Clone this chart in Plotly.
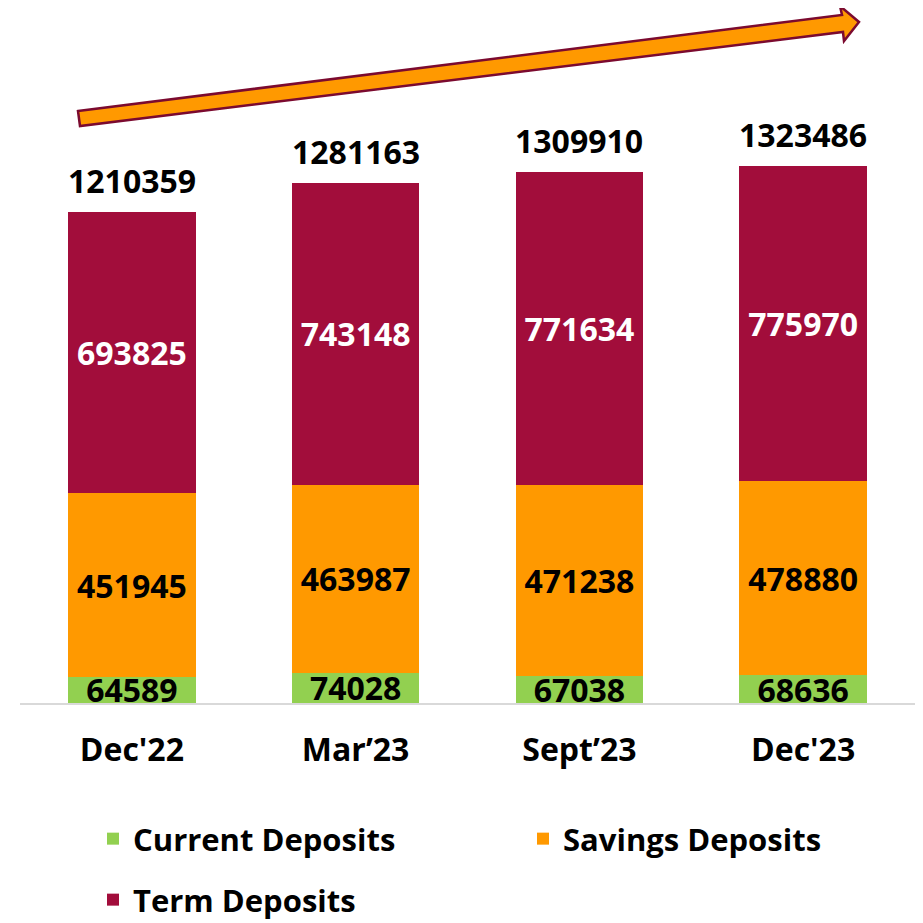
import plotly.graph_objects as go

categories = ["Dec'22", "Mar’23", "Sept’23", "Dec'23"]
current_deposits = [64589, 74028, 67038, 68636]
savings_deposits = [451945, 463987, 471238, 478880]
term_deposits = [693825, 743148, 771634, 775970]
totals = [1210359, 1281163, 1309910, 1323486]

GREEN = "#92D050"
ORANGE = "#FF9900"
MAROON = "#A20D3B"
FONT = "Open Sans"

OFF = 8  # page body margin in the browser
W, H = 923 - OFF, 923 - OFF
ML, MR, MT, MB = 12, 8, 30, 220
PW, PH = W - ML - MR, H - MT - MB

fig = go.Figure()
fig.add_trace(go.Bar(
    x=categories, y=current_deposits, name="Current Deposits",
    marker=dict(color=GREEN, line=dict(width=0)),
    text=[str(v) for v in current_deposits], textposition="inside",
    insidetextanchor="middle",
    textfont=dict(family=FONT, size=32, color="black", weight="bold"),
    legend="legend",
))
fig.add_trace(go.Bar(
    x=categories, y=savings_deposits, name="Savings Deposits",
    marker=dict(color=ORANGE, line=dict(width=0)),
    text=[str(v) for v in savings_deposits], textposition="inside",
    insidetextanchor="middle",
    textfont=dict(family=FONT, size=32, color="black", weight="bold"),
    legend="legend2",
))
fig.add_trace(go.Bar(
    x=categories, y=term_deposits, name="Term Deposits",
    marker=dict(color=MAROON, line=dict(width=0)),
    text=[str(v) for v in term_deposits], textposition="inside",
    insidetextanchor="middle",
    textfont=dict(family=FONT, size=32, color="white", weight="bold"),
    legend="legend3",
))

for c, t in zip(categories, totals):
    fig.add_annotation(
        x=c, y=t, text=str(t), showarrow=False, yanchor="bottom", yshift=8,
        font=dict(family=FONT, size=32, color="black", weight="bold"),
    )


def px2paper(px, py):
    # screen pixel -> paper coordinates
    return (px - OFF - ML) / PW, (H - MB - (py - OFF)) / PH


arrow_px = [(78, 111), (842, 15), (840, 6), (859, 22), (844, 41), (843, 32), (80, 126)]
pts = [px2paper(a, b) for a, b in arrow_px]
path = "M " + " L ".join(f"{x:.5f},{y:.5f}" for x, y in pts) + " Z"
fig.add_shape(type="path", path=path, xref="paper", yref="paper",
              fillcolor=ORANGE, line=dict(color="#7B0A2F", width=2.5), layer="above")

legfont = dict(family=FONT, size=31, color="black", weight="bold")


def leg(px, py):
    x, y = px2paper(px, py)
    return dict(orientation="h", x=x, y=y, xanchor="left", yanchor="top",
                font=legfont, bgcolor="rgba(0,0,0,0)")


fig.update_layout(
    width=W, height=H,
    margin=dict(l=ML, r=MR, t=MT, b=MB, autoexpand=False),
    showlegend=True,
    barmode="stack", bargap=0.43,
    plot_bgcolor="white", paper_bgcolor="white",
    uniformtext=dict(minsize=32, mode="show"),
    font=dict(family=FONT, color="black"),
    xaxis=dict(showline=True, linecolor="#D9D9D9", linewidth=1.5, showgrid=False,
               ticks="", ticklabelstandoff=18,
               tickfont=dict(family=FONT, size=32, color="black", weight="bold")),
    yaxis=dict(visible=False, range=[0, 1639000], showgrid=False, zeroline=False),
    legend=leg(93, 812),
    legend2=leg(523, 812),
    legend3=leg(93, 873),
)

fig.write_html("out.html")
